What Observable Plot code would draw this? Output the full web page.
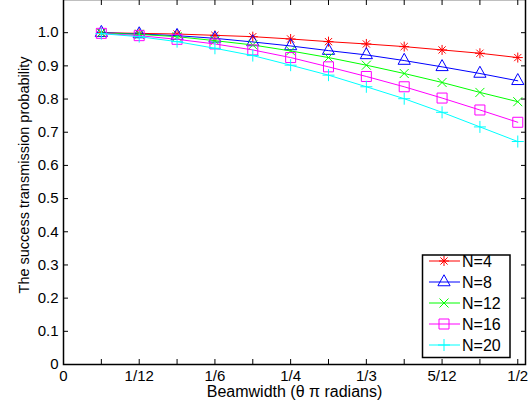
<!DOCTYPE html>
<html><head><meta charset="utf-8">
<script src="https://cdn.jsdelivr.net/npm/d3@7"></script>
<script src="https://cdn.jsdelivr.net/npm/@observablehq/plot@0.6"></script>
<style>
body{margin:0;background:#fff;}
#wrap{position:relative;width:532px;height:410px;font-family:"Liberation Sans",Arial,sans-serif;}
#legend{position:absolute;overflow:visible;}
</style></head><body><div id="wrap"></div>
<script>
// ---- data ----
const beamwidth = [1/24, 2/24, 3/24, 4/24, 5/24, 6/24, 7/24, 8/24, 9/24, 10/24, 11/24, 12/24];
const seriesNames = ["N=4", "N=8", "N=12", "N=16", "N=20"];
const n4  = [1.000, 0.998, 0.996, 0.992, 0.988, 0.981, 0.973, 0.966, 0.958, 0.948, 0.938, 0.925];
const n8  = [1.000, 0.996, 0.991, 0.983, 0.972, 0.960, 0.946, 0.933, 0.916, 0.897, 0.877, 0.855];
const n12 = [0.999, 0.995, 0.988, 0.976, 0.963, 0.945, 0.925, 0.902, 0.877, 0.850, 0.820, 0.792];
const n16 = [0.998, 0.991, 0.980, 0.966, 0.948, 0.925, 0.897, 0.868, 0.837, 0.803, 0.767, 0.730];
const n20 = [0.997, 0.988, 0.973, 0.953, 0.931, 0.902, 0.872, 0.837, 0.801, 0.760, 0.716, 0.672];
const xTickValues = [0, 1/12, 1/6, 1/4, 1/3, 5/12, 1/2];
const xTickLabels = ["0", "1/12", "1/6", "1/4", "1/3", "5/12", "1/2"];
const xMinorTicks = [0, 1/24, 2/24, 3/24, 4/24, 5/24, 6/24, 7/24, 8/24, 9/24, 10/24, 11/24, 12/24];
const yTickValues = [0, 0.1, 0.2, 0.3, 0.4, 0.5, 0.6, 0.7, 0.8, 0.9, 1.0];
const yTickLabels = ["0", "0.1", "0.2", "0.3", "0.4", "0.5", "0.6", "0.7", "0.8", "0.9", "1.0"];
const xLabel = "Beamwidth (\u03b8 \u03c0 radians)";
const yLabel = "The success transmission probability";

// ---- styles ----
const colors = ["#ff0000", "#0000ff", "#00ff00", "#ff00ff", "#00ffff"];
const seriesValues = [n4, n8, n12, n16, n20];
const FONT = "'Liberation Sans', Arial, sans-serif";

// MATLAB-like marker shapes
const rad = (size) => Math.sqrt(size / Math.PI);
const symAsterisk = {draw(c, size) { const r = rad(size), d = r * 0.72;
  c.moveTo(-r, 0); c.lineTo(r, 0); c.moveTo(0, -r); c.lineTo(0, r);
  c.moveTo(-d, -d); c.lineTo(d, d); c.moveTo(-d, d); c.lineTo(d, -d); }};
const symTriangle = {draw(c, size) { const r = rad(size);
  c.moveTo(0, -1.45 * r); c.lineTo(1.22 * r, 0.75 * r); c.lineTo(-1.22 * r, 0.75 * r); c.closePath(); }};
const symTimes = {draw(c, size) { const r = rad(size) * 0.9;
  c.moveTo(-r, -r); c.lineTo(r, r); c.moveTo(-r, r); c.lineTo(r, -r); }};
const symSquare = {draw(c, size) { const r = rad(size);
  c.rect(-r, -r, 2 * r, 2 * r); }};
const symPlus = {draw(c, size) { const r = rad(size) * 1.2;
  c.moveTo(-r, 0); c.lineTo(r, 0); c.moveTo(0, -r); c.lineTo(0, r); }};
const symbols = [symAsterisk, symTriangle, symTimes, symSquare, symPlus];

const rows = [];
seriesNames.forEach((s, si) => beamwidth.forEach((x, i) => rows.push({series: s, x, y: seriesValues[si][i]})));

const yFmt = new Map(yTickValues.map((v, i) => [v, yTickLabels[i]]));
const xFmt = new Map(xTickValues.map((v, i) => [v, xTickLabels[i]]));

const seriesMarks = seriesNames.flatMap((s, si) => [
  Plot.line(rows, {filter: d => d.series === s, x: "x", y: "y", stroke: colors[si], strokeWidth: 1}),
  Plot.dot(rows, {filter: d => d.series === s, x: "x", y: "y", r: 5, symbol: symbols[si], stroke: colors[si], fill: "none", strokeWidth: 1})
]);

const chart = Plot.plot({
  width: 532, height: 410,
  marginLeft: 63, marginRight: 7, marginTop: -1, marginBottom: 46,
  style: {fontFamily: FONT, fontSize: "15px", color: "#000", background: "#fff"},
  x: {domain: [0, 0.5085]},
  y: {domain: [0, 1.1]},
  marks: [
    ...seriesMarks,
    // inward ticks on all four sides
    Plot.axisX(xMinorTicks, {anchor: "bottom", tickSize: -5, fill: "none", strokeWidth: 1}),
    Plot.axisX(xMinorTicks, {anchor: "top", tickSize: -5, fill: "none", strokeWidth: 1}),
    Plot.axisY(yTickValues, {anchor: "left", tickSize: -5, fill: "none", strokeWidth: 1}),
    Plot.axisY(yTickValues, {anchor: "right", tickSize: -5, fill: "none", strokeWidth: 1}),
    // tick labels
    Plot.axisX(xTickValues, {anchor: "bottom", tickSize: 0, tickPadding: 6, tickFormat: d => xFmt.get(d), label: null, stroke: "none"}),
    Plot.axisY(yTickValues, {anchor: "left", tickSize: 0, tickPadding: 5, tickFormat: d => yFmt.get(d), label: null, stroke: "none"}),
    Plot.frame({stroke: "#000", strokeWidth: 1.5}),
    Plot.text([xLabel], {frameAnchor: "bottom", dy: 32, fontSize: 16, textAnchor: "middle", text: d => d}),
    Plot.text([yLabel], {frameAnchor: "left", dx: -39, dy: -7, rotate: -90, textAnchor: "middle", fontSize: 14.5, text: d => d})
  ]
});
const wrap = document.getElementById("wrap");
wrap.appendChild(chart);

// ---- legend (overlay) ----
const lg = d3.select(wrap).append("svg").attr("id", "legend")
  .attr("width", 92).attr("height", 112)
  .style("left", "421px").style("top", "250px");
lg.append("rect").attr("x", 1.5).attr("y", 5).attr("width", 87.5).attr("height", 102.5)
  .attr("fill", "#fff").attr("stroke", "#000").attr("stroke-width", 1.5);
seriesNames.forEach((s, i) => {
  const cy = 11 + i * 21;
  const g = lg.append("g").attr("transform", `translate(0,${cy})`);
  g.append("line").attr("x1", 8).attr("x2", 39).attr("y1", 0).attr("y2", 0).attr("stroke", colors[i]).attr("stroke-width", 1);
  const p = d3.path(); symbols[i].draw(p, 25 * Math.PI);
  g.append("path").attr("d", p.toString()).attr("transform", "translate(23,0)")
    .attr("fill", "none").attr("stroke", colors[i]).attr("stroke-width", 1);
  g.append("text").attr("x", 41).attr("y", 0).attr("dy", "0.36em")
    .attr("font-size", 16).attr("font-family", FONT).attr("fill", "#000").text(s);
});
</script></body></html>
